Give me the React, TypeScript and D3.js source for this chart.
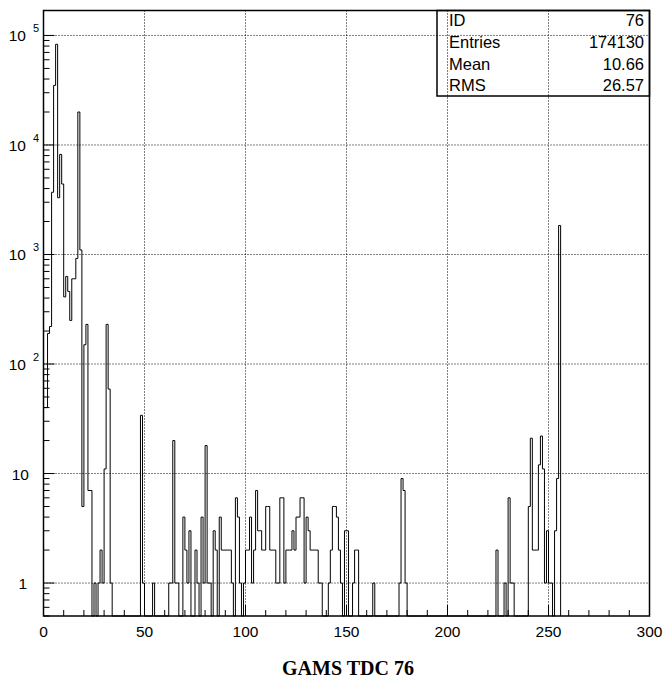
import React from 'react';
import * as d3 from 'd3';

// Histogram contents, one count per unit-wide bin starting at 0
const binCounts: number[] = [
  40, 40, 190, 220, 3700, 35000, 83000, 3300, 8200, 4400, 410, 630, 460, 250, 600, 600,
  920, 20000, 1100, 5, 150, 230, 7, 7, 0, 1, 0, 1, 2, 1, 11, 230,
  59, 1, 0, 0, 0, 0, 0, 0, 0, 0, 0, 0, 0, 0, 0, 0,
  34, 1, 0, 0, 0, 0, 1, 0, 0, 0, 0, 0, 0, 0, 1, 1,
  20, 1, 1, 0, 0, 4, 2, 1, 3, 0, 0, 2, 1, 0, 4, 1,
  18, 1, 1, 0, 3, 2, 0, 4, 2, 2, 2, 2, 2, 1, 0, 6,
  4, 1, 0, 1, 2, 2, 4, 1, 2, 7, 3, 3, 2, 2, 5, 5,
  2, 2, 2, 1, 1, 6, 6, 1, 2, 2, 2, 3, 2, 4, 4, 6,
  6, 1, 4, 3, 2, 2, 2, 2, 1, 1, 0, 0, 0, 1, 2, 5,
  5, 4, 2, 1, 0, 3, 3, 0, 0, 1, 2, 2, 0, 0, 0, 0,
  0, 0, 0, 1, 0, 0, 0, 0, 0, 0, 0, 0, 0, 0, 0, 0,
  1, 9, 7, 1, 0, 0, 0, 0, 0, 0, 0, 0, 0, 0, 0, 0,
  0, 0, 0, 0, 0, 0, 0, 0, 0, 0, 0, 0, 0, 0, 0, 0,
  0, 0, 0, 0, 0, 0, 0, 0, 0, 0, 0, 0, 0, 0, 0, 0,
  2, 0, 0, 0, 1, 0, 6, 1, 1, 0, 0, 0, 0, 0, 0, 0,
  5, 21, 2, 2, 2, 12, 22, 11, 1, 3, 1, 1, 0, 3, 9, 1840,
];

const xTickLabels = [0, 50, 100, 150, 200, 250, 300];
const xGridValues = [50, 100, 150, 200, 250];
const yDecades = [1, 10, 100, 1000, 10000, 100000];
const statsLabels = ['ID', 'Entries', 'Mean', 'RMS'];
const statsValues = ['76', '174130', '10.66', '26.57'];
const title = 'GAMS TDC 76';

const W = 665;
const H = 679;
const left = 43.5;
const right = 649.5;
const top = 10.5;
const bottom = 616;

export default function App() {
  const x = d3.scaleLinear().domain([0, 300]).range([left, right]);
  const y = d3.scaleLog().domain([0.5, 1.69e5]).range([bottom, top]).clamp(true);

  const pts: [number, number][] = [
    [0, 0],
    ...binCounts.map((v, i) => [i, v] as [number, number]),
    [binCounts.length, 0],
  ];
  const line = d3
    .line<[number, number]>()
    .x((d) => x(d[0]))
    .y((d) => (d[1] > 0 ? y(d[1]) : bottom))
    .curve(d3.curveStepAfter);

  const yMinor: { v: number; major: boolean }[] = [];
  for (let e = -1; e <= 5; e++) {
    for (let m = 1; m <= 9; m++) {
      const v = m * Math.pow(10, e);
      if (v >= 0.5 && v <= 1.69e5) yMinor.push({ v, major: m === 1 });
    }
  }
  const xTicks = d3.range(0, 301, 10);

  const font = "'Liberation Sans', Arial, sans-serif";
  const gridStyle = { stroke: '#000', strokeWidth: 1, strokeDasharray: '1,2' };

  return (
    <svg width={W} height={H} style={{ position: 'absolute', left: 0, top: 0, background: '#fff' }}>
      <rect x={0} y={0} width={W} height={H} fill="#fff" />
      {/* grid */}
      {xGridValues.map((v) => (
        <line key={'gx' + v} x1={x(v)} x2={x(v)} y1={top} y2={bottom} {...gridStyle} />
      ))}
      {yDecades.map((v) => (
        <line key={'gy' + v} x1={left} x2={right} y1={y(v)} y2={y(v)} {...gridStyle} />
      ))}
      {/* histogram */}
      <path d={line(pts) || ''} fill="none" stroke="#000" strokeWidth={1} />
      {/* frame */}
      <rect x={left} y={top} width={right - left} height={bottom - top} fill="none" stroke="#000" strokeWidth={1.5} />
      {/* y ticks */}
      {yMinor.map((t, i) => (
        <line key={'yt' + i} x1={left} x2={left + (t.major ? 11 : 6)} y1={y(t.v)} y2={y(t.v)} stroke="#000" strokeWidth={1} />
      ))}
      {/* x ticks */}
      {xTicks.map((v) => (
        <line key={'xt' + v} x1={x(v)} x2={x(v)} y1={bottom} y2={bottom - (v % 50 === 0 ? 11 : 6)} stroke="#000" strokeWidth={1} />
      ))}
      {/* x labels */}
      {xTickLabels.map((v) => (
        <text key={'xl' + v} x={x(v)} y={637} textAnchor="middle" fontFamily={font} fontSize={15.5}>
          {v}
        </text>
      ))}
      {/* y labels */}
      {yDecades.map((v) => {
        const e = Math.round(Math.log10(v));
        const yy = y(v);
        if (e === 0)
          return (
            <text key={'yl' + v} x={27} y={yy + 6} textAnchor="end" fontFamily={font} fontSize={15.5}>
              1
            </text>
          );
        if (e === 1)
          return (
            <text key={'yl' + v} x={29} y={yy + 6} textAnchor="end" fontFamily={font} fontSize={15.5}>
              10
            </text>
          );
        return (
          <g key={'yl' + v}>
            <text x={26} y={yy + 6} textAnchor="end" fontFamily={font} fontSize={15.5}>
              10
            </text>
            <text x={33} y={yy - 3} textAnchor="start" fontFamily={font} fontSize={11}>
              {e}
            </text>
          </g>
        );
      })}
      {/* stats box */}
      <rect x={437} y={top} width={right - 437} height={96 - top} fill="none" stroke="#000" strokeWidth={1.5} />
      {statsLabels.map((s, i) => (
        <text key={'sl' + i} x={449} y={26 + i * 21.8} fontFamily={font} fontSize={16.5}>
          {s}
        </text>
      ))}
      {statsValues.map((s, i) => (
        <text key={'sv' + i} x={644} y={26 + i * 21.8} textAnchor="end" fontFamily={font} fontSize={16.5}>
          {s}
        </text>
      ))}
      {/* title */}
      <text x={348} y={675} textAnchor="middle" fontFamily="'Liberation Serif', 'Times New Roman', serif" fontWeight="bold" fontSize={20}>
        {title}
      </text>
    </svg>
  );
}
